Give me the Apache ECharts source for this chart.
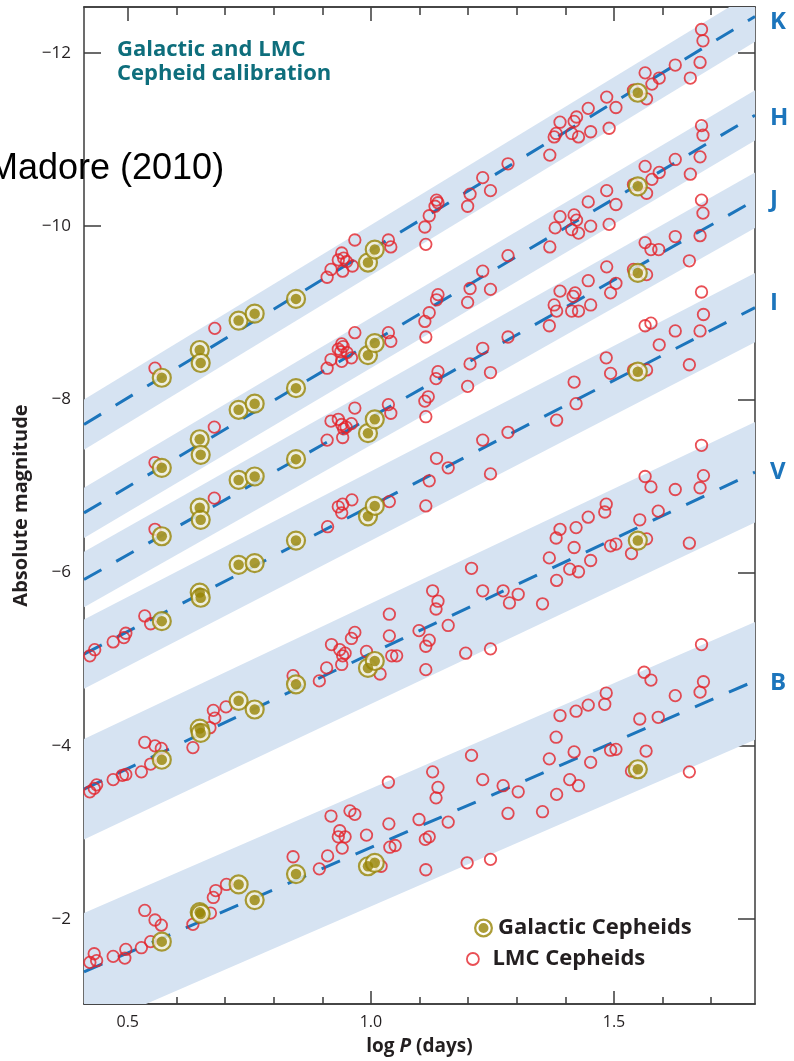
<!DOCTYPE html>
<html>
<head>
<meta charset="utf-8">
<script src="https://cdn.jsdelivr.net/npm/echarts@6/dist/echarts.min.js"></script>
<style>
html,body{margin:0;padding:0;background:#ffffff;}
#chart{width:794px;height:1061px;}
</style>
</head>
<body>
<div id="chart"></div>
<script>
// ---- axes ----
const X_MIN = 0.41, X_MAX = 1.79;
const Y_TOP = -12.53, Y_BOTTOM = -1.02;
const xMinorTicks = [0.5, 0.6, 0.7, 0.8, 0.9, 1.0, 1.1, 1.2, 1.3, 1.4, 1.5, 1.6, 1.7];
const xMajorTicks = [0.5, 1.0, 1.5];
const yTicks = [-12, -10, -8, -6, -4, -2];

// ---- period-luminosity fits (magnitude at X_MIN and at X_MAX) ----
const bandNames = ['K', 'H', 'J', 'I', 'V', 'B'];
const fitStart = [-7.71, -6.69, -5.92, -5.06, -3.50, -1.39];
const fitEnd = [-12.42, -11.28, -10.30, -9.06, -7.16, -4.75];
const bandHalfWidth = [0.29, 0.29, 0.32, 0.40, 0.58, 0.68];
const bandLabelShift = [6, 3, 0, -4, 0, 2];

// ---- Galactic Cepheids ----
const galLogP = [0.570, 0.648, 0.650, 0.728, 0.761, 0.846, 0.994, 1.008, 1.549];
const galK = [-8.25, -8.57, -8.42, -8.91, -8.99, -9.16, -9.58, -9.73, -11.54];
const galH = [-7.21, -7.54, -7.36, -7.88, -7.95, -8.13, -8.51, -8.65, -10.46];
const galJ = [-6.42, -6.75, -6.61, -7.07, -7.11, -7.31, -7.61, -7.77, -9.46];
const galI = [-5.44, -5.77, -5.71, -6.09, -6.11, -6.37, -6.65, -6.77, -8.32];
const galV = [-3.84, -4.20, -4.15, -4.52, -4.42, -4.71, -4.90, -4.98, -6.37];
const galB = [-1.74, -2.08, -2.06, -2.40, -2.22, -2.52, -2.61, -2.65, -3.73];

// ---- LMC Cepheids [logP, magnitude] ----
const lmcK = [[0.556,-8.36],[0.679,-8.82],[0.910,-9.41],[0.918,-9.50],[0.933,-9.61],[0.940,-9.69],[0.944,-9.63],[0.950,-9.59],[0.942,-9.48],[0.962,-9.54],[0.967,-9.84],[1.036,-9.84],[1.041,-9.76],[1.111,-9.99],[1.113,-9.79],[1.120,-10.12],[1.132,-10.23],[1.135,-10.30],[1.138,-10.27],[1.204,-10.37],[1.199,-10.23],[1.230,-10.56],[1.246,-10.41],[1.282,-10.72],[1.368,-10.82],[1.377,-11.03],[1.381,-11.07],[1.389,-11.20],[1.413,-11.07],[1.418,-11.21],[1.423,-11.26],[1.427,-11.03],[1.447,-11.36],[1.452,-11.09],[1.485,-11.49],[1.490,-11.13],[1.504,-11.37],[1.540,-11.57],[1.564,-11.77],[1.567,-11.47],[1.578,-11.64],[1.593,-11.71],[1.626,-11.86],[1.657,-11.71],[1.677,-11.89],[1.680,-12.27],[1.683,-12.14]];
const lmcH = [[0.556,-7.27],[0.678,-7.68],[0.910,-8.36],[0.918,-8.46],[0.933,-8.58],[0.938,-8.55],[0.940,-8.64],[0.943,-8.61],[0.951,-8.54],[0.940,-8.44],[0.960,-8.48],[0.967,-8.77],[1.036,-8.77],[1.041,-8.67],[1.111,-8.90],[1.113,-8.72],[1.120,-9.00],[1.135,-9.15],[1.138,-9.21],[1.199,-9.12],[1.204,-9.28],[1.230,-9.48],[1.246,-9.27],[1.282,-9.66],[1.368,-9.76],[1.379,-9.98],[1.389,-10.11],[1.413,-9.96],[1.418,-10.13],[1.423,-10.07],[1.427,-9.92],[1.447,-10.28],[1.452,-10.00],[1.485,-10.41],[1.490,-10.02],[1.504,-10.25],[1.540,-10.48],[1.564,-10.69],[1.567,-10.38],[1.578,-10.54],[1.593,-10.62],[1.626,-10.77],[1.657,-10.60],[1.677,-10.80],[1.680,-11.16],[1.683,-11.05]];
const lmcJ = [[0.556,-6.50],[0.678,-6.86],[0.910,-7.53],[0.918,-7.75],[0.933,-7.77],[0.940,-7.71],[0.944,-7.66],[0.949,-7.68],[0.942,-7.56],[0.960,-7.72],[0.967,-7.90],[1.036,-7.94],[1.041,-7.84],[1.111,-7.98],[1.113,-7.80],[1.118,-8.03],[1.134,-8.24],[1.138,-8.32],[1.199,-8.15],[1.204,-8.41],[1.230,-8.59],[1.246,-8.31],[1.282,-8.72],[1.367,-8.85],[1.377,-9.09],[1.382,-9.02],[1.389,-9.25],[1.413,-9.02],[1.416,-9.19],[1.420,-9.23],[1.427,-9.02],[1.447,-9.37],[1.452,-9.09],[1.485,-9.53],[1.493,-9.23],[1.504,-9.34],[1.540,-9.50],[1.564,-9.81],[1.567,-9.44],[1.576,-9.73],[1.592,-9.73],[1.626,-9.88],[1.655,-9.60],[1.677,-9.89],[1.680,-10.30],[1.683,-10.15]];
const lmcI = [[0.422,-5.04],[0.432,-5.11],[0.470,-5.20],[0.492,-5.25],[0.496,-5.30],[0.535,-5.50],[0.547,-5.41],[0.911,-6.53],[0.933,-6.76],[0.942,-6.79],[0.940,-6.69],[0.961,-6.84],[1.038,-6.82],[1.113,-6.77],[1.120,-7.06],[1.135,-7.32],[1.159,-7.21],[1.230,-7.53],[1.246,-7.14],[1.282,-7.62],[1.382,-7.76],[1.418,-8.20],[1.422,-7.95],[1.484,-8.48],[1.493,-8.30],[1.540,-8.34],[1.564,-8.85],[1.576,-8.88],[1.567,-8.34],[1.593,-8.63],[1.626,-8.79],[1.655,-8.40],[1.677,-8.79],[1.680,-9.24],[1.684,-8.98]];
const lmcV = [[0.422,-3.47],[0.431,-3.51],[0.436,-3.55],[0.470,-3.61],[0.489,-3.66],[0.496,-3.67],[0.528,-3.70],[0.547,-3.79],[0.535,-4.04],[0.556,-4.00],[0.569,-3.97],[0.634,-3.98],[0.676,-4.41],[0.679,-4.32],[0.669,-4.21],[0.702,-4.45],[0.840,-4.81],[0.894,-4.75],[0.909,-4.90],[0.919,-5.17],[0.936,-5.11],[0.947,-5.07],[0.942,-5.04],[0.940,-4.94],[0.960,-5.24],[0.967,-5.31],[0.991,-5.09],[1.019,-4.83],[1.038,-5.52],[1.038,-5.27],[1.043,-5.04],[1.053,-5.04],[1.099,-5.33],[1.113,-5.15],[1.120,-5.22],[1.113,-4.88],[1.127,-5.79],[1.134,-5.58],[1.138,-5.67],[1.159,-5.39],[1.195,-5.07],[1.207,-6.05],[1.230,-5.79],[1.246,-5.12],[1.272,-5.79],[1.285,-5.65],[1.303,-5.75],[1.353,-5.64],[1.367,-6.17],[1.381,-6.40],[1.382,-5.91],[1.389,-6.50],[1.409,-6.04],[1.418,-6.29],[1.422,-6.52],[1.427,-6.01],[1.447,-6.64],[1.452,-6.14],[1.481,-6.70],[1.484,-6.79],[1.493,-6.31],[1.504,-6.33],[1.536,-6.22],[1.553,-6.61],[1.567,-6.39],[1.591,-6.71],[1.655,-6.34],[1.564,-7.11],[1.576,-6.99],[1.626,-6.96],[1.680,-7.47],[1.684,-7.12],[1.677,-6.98]];
const lmcB = [[0.422,-1.50],[0.431,-1.60],[0.436,-1.52],[0.470,-1.57],[0.494,-1.55],[0.496,-1.65],[0.528,-1.67],[0.547,-1.74],[0.535,-2.10],[0.556,-1.99],[0.569,-1.93],[0.634,-1.94],[0.670,-2.07],[0.676,-2.25],[0.681,-2.33],[0.703,-2.40],[0.840,-2.72],[0.894,-2.58],[0.911,-2.73],[0.918,-3.19],[0.936,-3.02],[0.947,-2.95],[0.933,-2.95],[0.941,-2.82],[0.957,-3.25],[0.967,-3.21],[0.991,-2.97],[1.021,-2.61],[1.036,-3.58],[1.037,-3.10],[1.039,-2.83],[1.050,-2.85],[1.099,-3.15],[1.112,-2.92],[1.120,-2.95],[1.113,-2.57],[1.127,-3.70],[1.134,-3.40],[1.138,-3.52],[1.159,-3.12],[1.198,-2.65],[1.207,-3.89],[1.230,-3.61],[1.246,-2.69],[1.272,-3.54],[1.282,-3.22],[1.303,-3.47],[1.353,-3.24],[1.367,-3.85],[1.381,-4.10],[1.382,-3.44],[1.389,-4.35],[1.409,-3.61],[1.418,-3.93],[1.422,-4.40],[1.427,-3.54],[1.447,-4.47],[1.452,-3.81],[1.481,-4.48],[1.484,-4.61],[1.493,-3.95],[1.504,-3.96],[1.536,-3.71],[1.553,-4.31],[1.566,-3.94],[1.591,-4.33],[1.655,-3.70],[1.562,-4.85],[1.576,-4.76],[1.626,-4.58],[1.680,-5.17],[1.684,-4.74],[1.677,-4.62]];

// ---- styles ----
const FONT = '"Open Sans", "Noto Sans", sans-serif';
const AXIS_COLOR = '#3b3b3b';
const TEXT_COLOR = '#231f20';
const FIT_COLOR = '#1c75bc';
const BAND_COLOR = '#d6e3f2';
const LMC_COLOR = '#e4232b';
const GAL_COLOR = '#978506';
const GAL_GAP = '#f4f1dc';

const galBands = [galK, galH, galJ, galI, galV, galB];
const lmcBands = [lmcK, lmcH, lmcJ, lmcI, lmcV, lmcB];

const galData = [];
galBands.forEach(arr => arr.forEach((m, i) => galData.push([galLogP[i], m])));
const lmcData = [];
lmcBands.forEach(arr => arr.forEach(p => lmcData.push(p)));

const bandData = bandNames.map((b, i) => [X_MIN, fitStart[i], X_MAX, fitEnd[i], bandHalfWidth[i]]);

const axisLineStyle = { color: AXIS_COLOR, width: 1.5 };

function xAxisDef(pos, ticks, len, withLabel) {
  const a = {
    type: 'value', min: X_MIN, max: X_MAX, position: pos,
    axisLine: { show: true, onZero: false, lineStyle: axisLineStyle },
    axisTick: { show: true, inside: true, length: len, customValues: ticks, lineStyle: axisLineStyle },
    axisLabel: { show: false },
    splitLine: { show: false }
  };
  if (withLabel) {
    a.axisLabel = {
      show: true, customValues: xMajorTicks, formatter: v => v.toFixed(1),
      margin: 10, fontSize: 16, color: TEXT_COLOR, fontFamily: FONT
    };
    a.name = '{a|log }{b|P}{a| (days)}';
    a.nameLocation = 'middle';
    a.nameGap = 33;
    a.nameTextStyle = {
      rich: {
        a: { fontSize: 19, fontWeight: 'bold', fontFamily: FONT, color: TEXT_COLOR },
        b: { fontSize: 19, fontWeight: 'bold', fontStyle: 'italic', fontFamily: FONT, color: TEXT_COLOR }
      }
    };
  }
  return a;
}

const fitSeries = bandNames.map((b, i) => ({
  type: 'line',
  name: 'fit ' + b,
  data: [[X_MIN, fitStart[i]], [X_MAX, fitEnd[i]]],
  symbol: 'none',
  silent: true,
  z: 3,
  lineStyle: { color: FIT_COLOR, width: 3, type: [20, 17], cap: 'butt' },
  endLabel: {
    show: true, formatter: b, distance: 15, offset: [0, bandLabelShift[i]],
    color: FIT_COLOR, fontSize: 24, fontWeight: 'bold', fontFamily: FONT
  }
}));

const galIcon = 'path://M0,-10A10,10 0 1,1 0,10A10,10 0 1,1 0,-10ZM0,-7.6A7.6,7.6 0 1,0 0,7.6A7.6,7.6 0 1,0 0,-7.6ZM0,-5.3A5.3,5.3 0 1,1 0,5.3A5.3,5.3 0 1,1 0,-5.3Z';

const option = {
  animation: false,
  backgroundColor: '#ffffff',
  grid: { left: 84, right: 39, top: 7, bottom: 56 },
  xAxis: [
    xAxisDef('bottom', xMinorTicks, 7, true),
    xAxisDef('bottom', xMajorTicks, 13, false),
    xAxisDef('top', xMinorTicks, 8, false),
    xAxisDef('top', xMajorTicks, 14, false)
  ],
  yAxis: [
    {
      type: 'value', inverse: true, min: Y_TOP, max: Y_BOTTOM, position: 'left',
      axisLine: { show: true, onZero: false, lineStyle: axisLineStyle },
      axisTick: { show: true, inside: true, length: 17, customValues: yTicks, lineStyle: axisLineStyle },
      axisLabel: {
        customValues: yTicks, formatter: v => (v < 0 ? '\u2212' : '') + Math.abs(v),
        margin: 13, fontSize: 17, color: TEXT_COLOR, fontFamily: FONT
      },
      splitLine: { show: false },
      name: 'Absolute magnitude', nameLocation: 'middle', nameGap: 52,
      nameTextStyle: { fontSize: 20, fontWeight: 'bold', fontFamily: FONT, color: TEXT_COLOR }
    },
    {
      type: 'value', inverse: true, min: Y_TOP, max: Y_BOTTOM, position: 'right',
      axisLine: { show: true, onZero: false, lineStyle: axisLineStyle },
      axisTick: { show: true, inside: true, length: 17, customValues: yTicks, lineStyle: axisLineStyle },
      axisLabel: { show: false },
      splitLine: { show: false }
    }
  ],
  legend: [
    {
      data: [{ name: 'Galactic Cepheids', icon: galIcon, itemStyle: { color: GAL_COLOR, borderWidth: 0 } }],
      orient: 'vertical', left: 474, top: 917, padding: 0,
      itemWidth: 19, itemHeight: 19, selectedMode: false,
      textStyle: { fontSize: 22, fontWeight: 'bold', fontFamily: FONT, color: TEXT_COLOR }
    },
    {
      data: [{ name: 'LMC Cepheids', icon: 'circle', itemStyle: { color: 'rgba(0,0,0,0)', borderColor: LMC_COLOR, borderWidth: 1.8 } }],
      orient: 'vertical', left: 466, top: 948, padding: 0,
      itemWidth: 29, itemHeight: 12, selectedMode: false,
      textStyle: { fontSize: 22, fontWeight: 'bold', fontFamily: FONT, color: TEXT_COLOR }
    }
  ],
  graphic: [
    {
      type: 'text', x: 117, y: 37, z: 10,
      style: { text: 'Galactic and LMC\nCepheid calibration', fill: '#0e6e7c', font: 'bold 22px "Open Sans"', lineHeight: 24.5 }
    },
    {
      type: 'text', x: -12, y: 151, z: 10,
      style: { text: 'Madore (2010)', fill: '#000000', font: '36px "Liberation Sans", Arial, sans-serif' }
    }
  ],
  series: [
    {
      type: 'custom',
      name: 'bands',
      silent: true,
      clip: true,
      z: 1,
      data: bandData,
      renderItem: function (params, api) {
        const x0 = api.value(0), y0 = api.value(1), x1 = api.value(2), y1 = api.value(3), w = api.value(4);
        const pts = [api.coord([x0, y0 - w]), api.coord([x1, y1 - w]), api.coord([x1, y1 + w]), api.coord([x0, y0 + w])];
        return { type: 'polygon', shape: { points: pts }, style: { fill: BAND_COLOR } };
      }
    },
    ...fitSeries,
    {
      type: 'scatter', name: 'LMC Cepheids', data: lmcData, z: 4,
      symbol: 'circle', symbolSize: 11.5,
      itemStyle: { color: 'rgba(0,0,0,0)', borderColor: LMC_COLOR, borderWidth: 1.8 }
    },
    {
      type: 'scatter', name: 'Galactic Cepheids', data: galData, z: 5,
      symbol: 'circle', symbolSize: 18,
      itemStyle: { color: GAL_GAP, borderColor: GAL_COLOR, borderWidth: 2.2 }
    },
    {
      type: 'scatter', name: 'Galactic Cepheids', data: galData, z: 6,
      symbol: 'circle', symbolSize: 10.5,
      itemStyle: { color: GAL_COLOR }
    }
  ]
};

const chart = echarts.init(document.getElementById('chart'), null, { renderer: 'canvas' });
chart.setOption(option);
</script>
</body>
</html>
